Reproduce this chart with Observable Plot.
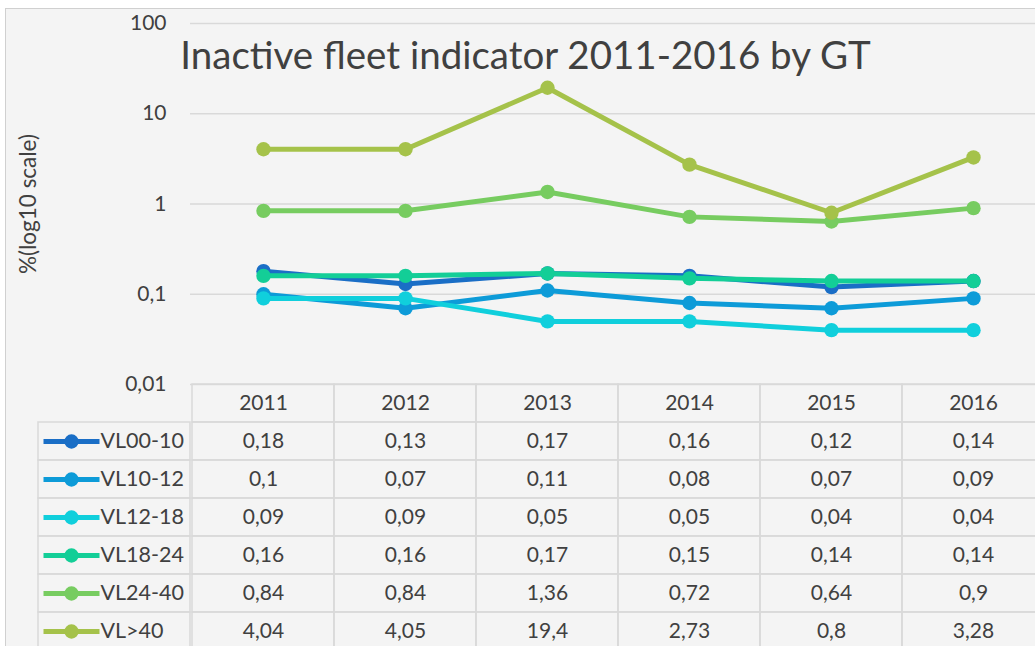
<!DOCTYPE html>
<html>
<head>
<meta charset="utf-8">
<script src="https://cdn.jsdelivr.net/npm/d3@7"></script>
<script src="https://cdn.jsdelivr.net/npm/@observablehq/plot@0.6"></script>
<style>
  html, body { margin: 0; padding: 0; background: #ffffff; }
  body { width: 1035px; height: 646px; overflow: hidden; position: relative; font-family: Lato, "Open Sans", sans-serif; }
  #panel { position: absolute; left: 5px; top: 8px; width: 1100px; height: 700px; background: #f4f4f4; border: 1px solid #d0d0d0; }
  #title { position: absolute; left: 5px; top: 35px; width: 1041px; text-align: center; font-size: 38.5px; color: #404040; white-space: nowrap; line-height: 1; }
  .abs { position: absolute; }
  svg { overflow: visible; }
</style>
</head>
<body>
<div id="panel"></div>
<div id="chart" class="abs" style="left:0;top:0"></div>
<div id="table" class="abs" style="left:0;top:384px"></div>
<div id="legend" class="abs" style="left:38px;top:422px"></div>
<div id="title">Inactive fleet indicator 2011-2016 by GT</div>
<script>
const years = ["2011", "2012", "2013", "2014", "2015", "2016"];
const seriesNames = ["VL00-10", "VL10-12", "VL12-18", "VL18-24", "VL24-40", "VL>40"];
const seriesColors = ["#1a6ec6", "#0d9bd8", "#10cfdc", "#13ce97", "#77cc60", "#a5c24a"];
const vl00_10 = [0.18, 0.13, 0.17, 0.16, 0.12, 0.14];
const vl10_12 = [0.1, 0.07, 0.11, 0.08, 0.07, 0.09];
const vl12_18 = [0.09, 0.09, 0.05, 0.05, 0.04, 0.04];
const vl18_24 = [0.16, 0.16, 0.17, 0.15, 0.14, 0.14];
const vl24_40 = [0.84, 0.84, 1.36, 0.72, 0.64, 0.9];
const vlOver40 = [4.04, 4.05, 19.4, 2.73, 0.8, 3.28];
const yTicks = [0.01, 0.1, 1, 10, 100];
const yLabel = "%(log10 scale)";

const seriesValues = [vl00_10, vl10_12, vl12_18, vl18_24, vl24_40, vlOver40];
const rows = seriesNames.flatMap((s, i) => years.map((y, j) => ({series: s, year: y, value: seriesValues[i][j]})));
const fmt = v => String(v).replace(".", ",");
const textColor = "#404040";
const gridColor = "#d9d9d9";
const font = "Lato, 'Open Sans', sans-serif";
const colorScale = {domain: seriesNames, range: seriesColors};

// Chart
const chart = Plot.plot({
  width: 1035, height: 400,
  marginLeft: 190, marginRight: 0, marginTop: 23, marginBottom: 16,
  style: {background: "transparent", fontFamily: font, color: textColor, overflow: "visible"},
  x: {type: "point", domain: years, range: [261.3, 974.7], padding: 0, axis: null},
  y: {type: "log", domain: [0.01, 100], range: [384, 23], axis: null},
  color: colorScale,
  marks: [
    Plot.ruleY(yTicks, {stroke: gridColor, strokeWidth: 1.5}),
    Plot.text(yTicks, {y: d => d, text: fmt, frameAnchor: "left", textAnchor: "end", dx: -24, fontSize: 21, fill: textColor}),
    Plot.text([yLabel], {text: d => d, frameAnchor: "left", dx: -162, rotate: -90, textAnchor: "middle", lineAnchor: "middle", fontSize: 22.5, fill: textColor}),
    ...seriesNames.flatMap(s => [
      Plot.line(rows.filter(r => r.series === s), {x: "year", y: "value", stroke: "series", strokeWidth: 5, strokeLinejoin: "round"}),
      Plot.dot(rows.filter(r => r.series === s), {x: "year", y: "value", fill: "series", r: 7.2})
    ])
  ]
});
document.getElementById("chart").append(chart);

// Data table
const rowKeys = ["hdr", ...seriesNames];
const cells = rowKeys.flatMap(r => years.map(y => ({row: r, year: y})));
const table = Plot.plot({
  width: 1035, height: 262,
  marginLeft: 190, marginRight: 0, marginTop: 0, marginBottom: 0,
  style: {background: "transparent", fontFamily: font, color: textColor, overflow: "visible"},
  x: {type: "band", domain: years, range: [190, 1046], padding: 0, axis: null},
  y: {type: "band", domain: rowKeys, range: [0, 266], padding: 0, axis: null},
  marks: [
    Plot.cell(cells, {x: "year", y: "row", fill: "none", stroke: gridColor, strokeWidth: 1.5, inset: 0}),
    Plot.text(years, {x: d => d, y: () => "hdr", text: d => d, fontSize: 21, fill: textColor}),
    Plot.text(rows, {x: "year", y: "series", text: d => fmt(d.value), fontSize: 21, fill: textColor})
  ]
});
document.getElementById("table").append(table);

// Legend column of the table
const swatch = {
  draw(context) {
    context.moveTo(-28, -2.5);
    context.lineTo(28, -2.5);
    context.lineTo(28, 2.5);
    context.lineTo(-28, 2.5);
    context.closePath();
    context.moveTo(7.2, 0);
    context.arc(0, 0, 7.2, 0, 2 * Math.PI);
    context.closePath();
  }
};
const legend = Plot.plot({
  width: 152, height: 228,
  margin: 0,
  style: {background: "transparent", fontFamily: font, color: textColor, overflow: "visible"},
  y: {type: "band", domain: seriesNames, range: [0, 228], padding: 0, axis: null},
  color: colorScale,
  marks: [
    Plot.cell(seriesNames, {y: d => d, fill: "none", stroke: gridColor, strokeWidth: 1.5, inset: 0}),
    Plot.dot(seriesNames, {y: d => d, frameAnchor: "left", dx: 33, fill: d => d, symbol: swatch, r: 7}),
    Plot.text(seriesNames, {y: d => d, text: d => d, frameAnchor: "left", dx: 62, textAnchor: "start", fontSize: 21.5, fill: textColor})
  ]
});
document.getElementById("legend").append(legend);
</script>
</body>
</html>
